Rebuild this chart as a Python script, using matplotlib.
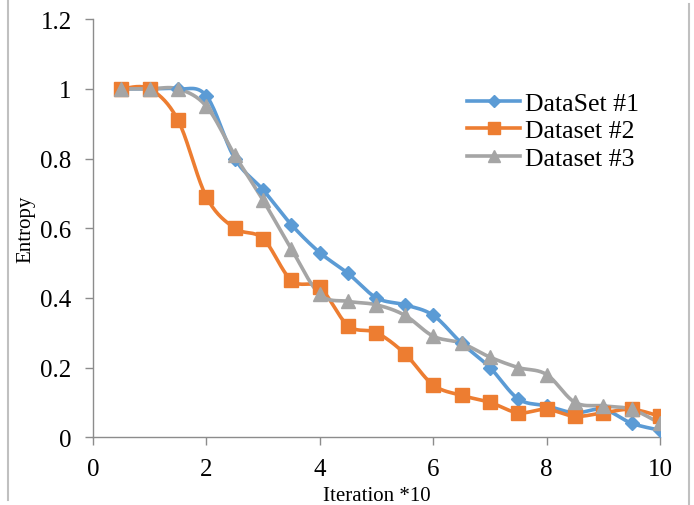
import matplotlib
matplotlib.use('Agg')
import matplotlib.pyplot as plt
import numpy as np
from matplotlib.lines import Line2D

iterations = [0.5, 1, 1.5, 2, 2.5, 3, 3.5, 4, 4.5, 5,
              5.5, 6, 6.5, 7, 7.5, 8, 8.5, 9, 9.5, 10]
dataset1 = [1.0, 1.0, 1.0, 0.98, 0.80, 0.71, 0.61, 0.53, 0.47, 0.40,
            0.38, 0.35, 0.27, 0.20, 0.11, 0.09, 0.07, 0.08, 0.04, 0.02]
dataset2 = [1.0, 1.0, 0.91, 0.69, 0.60, 0.57, 0.45, 0.43, 0.32, 0.30,
            0.24, 0.15, 0.12, 0.10, 0.07, 0.08, 0.06, 0.07, 0.08, 0.06]
dataset3 = [1.0, 1.0, 1.0, 0.95, 0.81, 0.68, 0.54, 0.41, 0.39, 0.38,
            0.35, 0.29, 0.27, 0.23, 0.20, 0.18, 0.10, 0.09, 0.08, 0.04]
labels = ['DataSet #1', 'Dataset #2', 'Dataset #3']


def smooth(x, y, n=20):
    # catmull-rom style bezier, like excel's smoothed line
    x = np.asarray(x, float)
    y = np.asarray(y, float)
    px = np.concatenate([[x[0]], x, [x[-1]]])
    py = np.concatenate([[y[0]], y, [y[-1]]])
    xs, ys = [], []
    t = np.linspace(0, 1, n)
    for i in range(1, len(px) - 2):
        p0 = np.array([px[i], py[i]])
        p3 = np.array([px[i + 1], py[i + 1]])
        c1 = p0 + (np.array([px[i + 1], py[i + 1]]) - np.array([px[i - 1], py[i - 1]])) / 6
        c2 = p3 - (np.array([px[i + 2], py[i + 2]]) - np.array([px[i], py[i]])) / 6
        b = ((1 - t) ** 3)[:, None] * p0 + (3 * (1 - t) ** 2 * t)[:, None] * c1 \
            + (3 * (1 - t) * t ** 2)[:, None] * c2 + (t ** 3)[:, None] * p3
        xs.extend(b[:, 0])
        ys.extend(b[:, 1])
    return xs, ys


plt.rcParams['font.family'] = 'Liberation Serif'

fig = plt.figure(figsize=(6.94, 5.06), dpi=100)
ax = fig.add_axes([0.134, 0.134, 0.817, 0.826])

colors = ['#5B9BD5', '#ED7D31', '#A5A5A5']
markers = ['D', 's', '^']
msizes = [7.5, 10, 10.5]
series = [dataset1, dataset2, dataset3]

handles = []
for ys, c, m, ms, lab in zip(series, colors, markers, msizes, labels):
    sx, sy = smooth(iterations, ys)
    ax.plot(sx, sy, color=c, lw=2.6, zorder=2, solid_capstyle='round')
    ax.plot(iterations, ys, linestyle='none', marker=m, ms=ms, color=c, zorder=3)
    handles.append(Line2D([], [], color=c, lw=2.6, marker=m, ms=ms * 0.8, label=lab))

ax.set_xlim(0, 10)
ax.set_ylim(0, 1.2)
ax.set_xticks([0, 2, 4, 6, 8, 10])
ax.set_yticks([0, 0.2, 0.4, 0.6, 0.8, 1.0, 1.2])
ax.set_xticklabels(['0', '2', '4', '6', '8', '10'])
ax.set_yticklabels(['0', '0.2', '0.4', '0.6', '0.8', '1', '1.2'])
for s in ['top', 'right']:
    ax.spines[s].set_visible(False)
for s in ['left', 'bottom']:
    ax.spines[s].set_color('#8c8c8c')
    ax.spines[s].set_linewidth(1)
ax.tick_params(axis='both', colors='#8c8c8c', labelcolor='black', labelsize=18, length=5.8, width=1)
ax.tick_params(axis='x', pad=9)
ax.tick_params(axis='y', pad=9.5)

ax.set_xlabel('Iteration *10', fontsize=15)
ax.set_ylabel('Entropy', fontsize=15)
ax.xaxis.set_label_coords(0.5, -0.117)
ax.yaxis.set_label_coords(-0.102, 0.5)

ax.legend(handles=handles, loc='upper left', bbox_to_anchor=(0.66, 0.826), frameon=False,
          fontsize=18.5, handlelength=2.05, handletextpad=0.2, labelspacing=0.17, borderaxespad=0,
          borderpad=0)

# thin frame lines at the picture's edges
fig.add_artist(Line2D([8 / 694, 8 / 694], [0.01, 1.0], color='#c0c0c0', lw=1.5))
fig.add_artist(Line2D([689 / 694, 689 / 694], [0.0, 0.99], color='#c0c0c0', lw=1.5))

fig.savefig('out.png', dpi=100)
